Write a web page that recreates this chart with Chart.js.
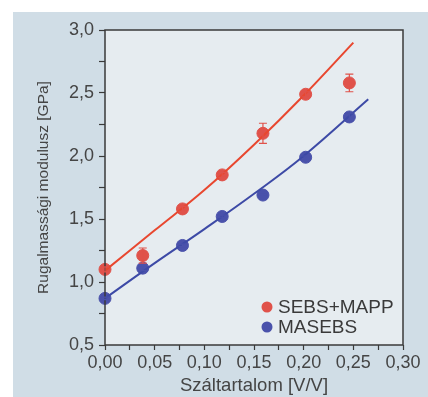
<!DOCTYPE html>
<html>
<head>
<meta charset="utf-8">
<script src="https://cdn.jsdelivr.net/npm/chart.js@4.4.1/dist/chart.umd.min.js"></script>
<style>
  html, body { margin: 0; padding: 0; background: #fff; }
  #wrap { width: 428px; height: 397px; }
</style>
</head>
<body>
<div id="wrap"><canvas id="myChart" width="428" height="397"></canvas></div>
<script>
'use strict';

/* measured points */
const xVals = [0, 0.038, 0.078, 0.118, 0.159, 0.202, 0.246];
const sebsMapp = [1.10, 1.21, 1.58, 1.85, 2.18, 2.49, 2.58];
const sebsMappErr = [0.02, 0.06, 0.02, 0.02, 0.08, 0.02, 0.07];
const masebs = [0.87, 1.11, 1.29, 1.52, 1.69, 1.99, 2.31];
const masebsErr = [0.01, 0.02, 0.01, 0.01, 0.01, 0.01, 0.03];

/* fitted curves */
const sebsFitX = [0, 0.05, 0.10, 0.15, 0.20, 0.25];
const sebsFitY = [1.09, 1.41, 1.73, 2.09, 2.48, 2.90];
const maFitX = [0, 0.05, 0.10, 0.15, 0.20, 0.265];
const maFitY = [0.87, 1.15, 1.42, 1.70, 2.00, 2.45];

const seriesLabels = ['SEBS+MAPP', 'MASEBS'];
const xTitle = 'Száltartalom [V/V]';
const yTitle = 'Rugalmassági modulusz [GPa]';

const red = '#e0524a';
const redLine = '#e8472f';
const blue = '#4a52ab';
const blueLine = '#3d4aa6';

function pts(xs, ys) {
    return xs.map((x, i) => ({ x: x, y: ys[i] }));
}

const fontFam = '"Liberation Sans", Arial, sans-serif';

/* background panel, plot fill, border, error bars and legend */
const decor = {
    id: 'decor',
    beforeDraw(chart) {
        const ctx = chart.ctx;
        const a = chart.chartArea;
        ctx.save();
        ctx.fillStyle = '#d0dde6';
        ctx.fillRect(13, 12, chart.width - 13, chart.height - 12);
        ctx.fillStyle = '#e6ecf0';
        ctx.fillRect(a.left, a.top, a.right - a.left, a.bottom - a.top);
        ctx.restore();
    },
    afterDatasetsDraw(chart) {
        const ctx = chart.ctx;
        const a = chart.chartArea;
        const xs = chart.scales.x, ys = chart.scales.y;
        ctx.save();
        ctx.strokeStyle = '#3a3a3a';
        ctx.lineWidth = 1.5;
        ctx.strokeRect(a.left, a.top, a.right - a.left, a.bottom - a.top);

        // error bars
        [[sebsMapp, sebsMappErr, red], [masebs, masebsErr, blue]].forEach(s => {
            ctx.strokeStyle = s[2];
            ctx.lineWidth = 1.2;
            xVals.forEach((xv, i) => {
                const px = xs.getPixelForValue(xv);
                const top = ys.getPixelForValue(s[0][i] + s[1][i]);
                const bot = ys.getPixelForValue(s[0][i] - s[1][i]);
                ctx.beginPath();
                ctx.moveTo(px, top); ctx.lineTo(px, bot);
                ctx.moveTo(px - 4, top); ctx.lineTo(px + 4, top);
                ctx.moveTo(px - 4, bot); ctx.lineTo(px + 4, bot);
                ctx.stroke();
            });
        });

        // legend inside the plot
        ctx.font = '19px ' + fontFam;
        ctx.textBaseline = 'middle';
        [[red, 307], [blue, 327]].forEach((e, i) => {
            ctx.beginPath();
            ctx.fillStyle = e[0];
            ctx.arc(267, e[1], 5.5, 0, Math.PI * 2);
            ctx.fill();
            ctx.fillStyle = '#3a3a3a';
            ctx.fillText(seriesLabels[i], 278, e[1] + 1);
        });
        ctx.restore();
    }
};

const config = {
    type: 'scatter',
    data: {
        datasets: [
            {
                label: seriesLabels[0] + ' fit',
                type: 'line',
                data: pts(sebsFitX, sebsFitY),
                borderColor: redLine,
                borderWidth: 2,
                pointRadius: 0,
                tension: 0.4,
                fill: false
            },
            {
                label: seriesLabels[1] + ' fit',
                type: 'line',
                data: pts(maFitX, maFitY),
                borderColor: blueLine,
                borderWidth: 2,
                pointRadius: 0,
                tension: 0.4,
                fill: false
            },
            {
                label: seriesLabels[0],
                data: pts(xVals, sebsMapp),
                backgroundColor: red,
                borderColor: red,
                pointRadius: 6,
                clip: false
            },
            {
                label: seriesLabels[1],
                data: pts(xVals, masebs),
                backgroundColor: blue,
                borderColor: blue,
                pointRadius: 6,
                clip: false
            }
        ]
    },
    options: {
        responsive: false,
        animation: false,
        devicePixelRatio: 1,
        layout: { padding: { left: 0, top: 30, right: 25, bottom: 0 } },
        plugins: {
            legend: { display: false },
            tooltip: { enabled: false }
        },
        scales: {
            x: {
                type: 'linear',
                min: 0,
                max: 0.30,
                afterFit(scale) { scale.height = 52; },
                border: { display: false },
                grid: { drawOnChartArea: false, tickLength: 5, color: '#3a3a3a', tickWidth: 1.2 },
                ticks: {
                    stepSize: 0.025,
                    padding: 2,
                    color: '#454545',
                    font: { size: 18, family: fontFam },
                    maxRotation: 0,
                    autoSkip: false,
                    callback: v => {
                        const k = Math.round(v * 1000);
                        return k % 50 === 0 ? (k / 1000).toFixed(2).replace('.', ',') : '';
                    }
                },
                title: {
                    display: true,
                    text: xTitle,
                    color: '#454545',
                    font: { size: 18.5, family: fontFam },
                    padding: { top: 1, bottom: 0 }
                }
            },
            y: {
                min: 0.5,
                max: 3.0,
                afterFit(scale) { scale.width = 105; },
                border: { display: false },
                grid: { drawOnChartArea: false, tickLength: 6, color: '#3a3a3a', tickWidth: 1.2 },
                ticks: {
                    stepSize: 0.25,
                    padding: 5,
                    color: '#454545',
                    font: { size: 18, family: fontFam },
                    autoSkip: false,
                    callback: v => {
                        const k = Math.round(v * 100);
                        return k % 50 === 0 ? (k / 100).toFixed(1).replace('.', ',') : '';
                    }
                },
                title: {
                    display: true,
                    text: yTitle,
                    color: '#454545',
                    font: { size: 15.5, family: fontFam },
                    padding: { top: 34, bottom: 0 }
                }
            }
        }
    },
    plugins: [decor]
};

var myChart = new Chart(document.getElementById('myChart'), config);
</script>
</body>
</html>
